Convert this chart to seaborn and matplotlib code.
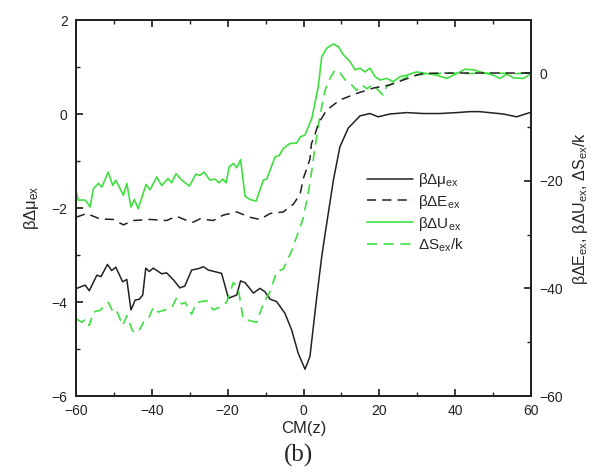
import numpy as np
import pandas as pd
import matplotlib
matplotlib.use("Agg")
import matplotlib.pyplot as plt
import seaborn as sns
from matplotlib.lines import Line2D

# ---- data ----
x_mu = [-59.8, -57.6, -56.5, -54.5, -53.4, -51.7, -50.6, -49.5, -47.7, -46.6, -45.5, -44.4,
        -43.3, -42.4, -41.6, -40.7, -39.6, -37.4, -36.1, -34.3, -32.6, -31.3, -29.5, -27.7,
        -26.4, -25.1, -21.6, -19.8, -17.6, -16.6, -15.4, -13.2, -11.5, -10.2, -8.8, -7.1,
        -4.9, -3.1, -1.4, 0.4, 1.7, 3.5, 4.8, 5.7, 7.9, 9.6, 11.8, 14.9, 17.5, 19.7, 22.8,
        27.2, 31.6, 36.0, 40.4, 43.9, 46.5, 52.7, 56.2, 59.7]
mu = [-3.71, -3.64, -3.76, -3.43, -3.46, -3.20, -3.33, -3.26, -3.57, -3.52, -4.17, -3.96,
      -3.94, -3.85, -3.28, -3.35, -3.28, -3.40, -3.38, -3.53, -3.70, -3.66, -3.32, -3.29,
      -3.25, -3.32, -3.39, -3.92, -3.85, -3.55, -3.59, -3.81, -3.71, -3.78, -3.94, -3.99,
      -4.24, -4.60, -5.09, -5.43, -5.16, -3.89, -3.04, -2.55, -1.40, -0.70, -0.30, -0.04,
      0.01, -0.06, 0.00, 0.03, 0.01, 0.01, 0.03, 0.05, 0.05, 0.00, -0.06, 0.03]

x_E = [-60.0, -57.2, -53.7, -50.2, -47.5, -44.9, -40.5, -36.1, -33.5, -30.8, -29.1, -27.3,
       -23.8, -21.2, -17.6, -14.1, -11.5, -8.8, -5.3, -3.6, -2.7, -0.9, 0.0, 1.7, 2.1, 3.0,
       3.9, 6.1, 9.6, 14.0, 18.4, 22.8, 26.3, 29.8, 31.6, 40.0, 50.0, 60.0]
E = [-26.8, -26.1, -27.1, -27.2, -28.2, -27.4, -27.2, -27.4, -26.6, -27.4, -27.7, -27.1,
     -27.4, -26.4, -25.8, -26.8, -27.2, -26.1, -25.8, -24.8, -24.4, -22.5, -19.5, -16.0,
     -13.1, -11.5, -9.4, -6.9, -5.0, -3.8, -2.8, -2.2, -1.3, -0.4, -0.06, 0.0, 0.0, 0.0]

x_U = [-60.0, -59.4, -57.6, -56.8, -56.3, -55.4, -54.1, -53.2, -51.5, -50.3, -49.5, -47.5,
       -46.6, -45.5, -44.6, -43.6, -41.5, -40.5, -38.7, -37.4, -35.7, -34.8, -33.6, -32.1,
       -30.1, -28.4, -27.3, -26.2, -24.7, -23.3, -22.3, -21.3, -20.4, -19.6, -18.5, -17.6,
       -16.6, -15.4, -14.1, -12.5, -10.6, -9.7, -7.5, -6.4, -5.3, -3.6, -1.8, -0.9, 0.4,
       2.2, 3.9, 4.8, 6.1, 7.9, 9.2, 10.5, 12.3, 13.6, 14.9, 16.2, 17.5, 18.9, 20.2, 21.9,
       23.7, 25.4, 27.2, 29.8, 32.5, 35.1, 37.8, 40.4, 42.6, 44.8, 47.4, 50.1, 51.8, 53.6,
       55.4, 58.0, 59.9]
U = [-21.8, -23.6, -23.6, -24.3, -24.9, -21.5, -20.5, -21.2, -18.4, -20.9, -19.9, -22.7,
     -20.5, -24.9, -23.5, -25.2, -20.7, -21.7, -19.3, -20.9, -19.6, -20.4, -18.7, -19.9,
     -21.0, -18.8, -19.0, -18.4, -19.9, -19.7, -20.4, -19.7, -20.4, -17.4, -16.8, -17.6,
     -16.1, -22.9, -23.5, -23.8, -19.9, -19.7, -15.6, -15.3, -14.0, -13.1, -13.0, -11.9,
     -11.5, -8.4, -2.5, 3.0, 4.6, 5.4, 4.9, 3.4, 2.1, 0.6, 0.9, 0.2, 0.9, -0.7, -1.3, -1.0,
     -1.6, -0.7, -0.4, 0.2, -0.1, -0.4, -1.0, -0.1, 0.7, 0.6, 0.06, -0.4, -1.0, -0.2,
     -0.9, -1.0, -0.2]

x_S = [-59.8, -58.5, -57.4, -56.5, -55.4, -53.7, -51.5, -50.2, -49.3, -47.7, -46.6, -45.1,
       -43.6, -41.8, -40.7, -39.6, -38.3, -37.0, -34.8, -33.4, -32.1, -31.2, -29.5, -28.2,
       -25.5, -23.8, -22.0, -20.3, -18.5, -17.2, -15.9, -14.1, -12.4, -10.6, -8.8, -7.1,
       -5.3, -3.1, 0.0, 1.7, 3.0, 4.3, 5.7, 7.0, 8.3, 9.6, 11.0, 12.7, 14.0, 15.3, 16.7,
       18.4, 19.3, 21.0, 21.9, 23.7, 25.9, 27.5, 32.0, 38.0, 44.0, 50.0, 56.0, 60.0]
S = [-45.7, -46.3, -45.7, -46.9, -44.4, -44.1, -42.6, -44.4, -44.1, -46.9, -45.1, -47.9,
     -48.2, -45.7, -45.3, -43.5, -44.4, -44.1, -43.6, -41.7, -42.9, -42.6, -44.8, -42.6,
     -42.3, -44.0, -43.5, -42.6, -38.9, -40.1, -45.7, -46.0, -46.3, -42.9, -40.6, -36.9,
     -36.4, -33.0, -26.8, -20.5, -14.0, -8.1, -3.2, -1.0, 0.56, 0.06, -1.3, -2.2, -3.2,
     -2.2, -2.9, -2.2, -2.9, -4.1, -2.5, -1.9, -1.3, -0.6, -0.2, 0.0, -0.1, 0.0, -0.1, 0.0]

labels = ['βΔμ$_{ex}$', 'βΔE$_{ex}$', 'βΔU$_{ex}$', 'ΔS$_{ex}$/k']

GREEN = '#3fe03f'

sns.set_theme(style='ticks')
plt.rcParams['font.family'] = ['Liberation Sans', 'DejaVu Sans']
plt.rcParams['mathtext.default'] = 'regular'

fig = plt.figure(figsize=(5.97, 4.72), dpi=100)
ax = fig.add_axes([76/597, 1-396/472, (531-76)/597, (396-20)/472])
ax2 = ax.twinx()

df_mu = pd.DataFrame({'x': x_mu, 'y': mu})
df_E = pd.DataFrame({'x': x_E, 'y': E})
df_U = pd.DataFrame({'x': x_U, 'y': U})
df_S = pd.DataFrame({'x': x_S, 'y': S})

sns.lineplot(data=df_S, x='x', y='y', ax=ax2, color=GREEN, lw=1.2,
             linestyle=(0, (6, 4)), estimator=None, sort=False)
sns.lineplot(data=df_U, x='x', y='y', ax=ax2, color=GREEN, lw=1.2,
             estimator=None, sort=False)
sns.lineplot(data=df_E, x='x', y='y', ax=ax2, color='#222222', lw=1.1,
             linestyle=(0, (6, 4)), estimator=None, sort=False)
sns.lineplot(data=df_mu, x='x', y='y', ax=ax, color='#222222', lw=1.1,
             estimator=None, sort=False)

ax.set_xlim(-60, 60)
ax.set_ylim(-6, 2)
ax2.set_ylim(-60, 9.85)

ax.set_xticks([-60, -40, -20, 0, 20, 40, 60])
ax.set_xticks(np.arange(-50, 60, 20), minor=True)
ax.set_yticks([-6, -4, -2, 0, 2])
ax.set_yticks([-5, -3, -1, 1], minor=True)
ax2.set_yticks([-60, -40, -20, 0])
ax2.set_yticks([-50, -30, -10], minor=True)

for a in (ax, ax2):
    for s in a.spines.values():
        s.set_linewidth(1.3)
        s.set_color('#222222')
ax.tick_params(axis='both', which='both', direction='in', labelsize=10,
               colors='#222222', top=True, right=False, pad=6)
ax.tick_params(which='major', length=5)
ax.tick_params(which='minor', length=3)
ax2.tick_params(axis='y', which='both', direction='in', labelsize=10,
                colors='#222222', pad=6)
ax2.tick_params(which='major', length=5)
ax2.tick_params(which='minor', length=3)

ax.set_xlabel('CM(z)', fontsize=12, labelpad=2)
ax.set_ylabel('βΔμ$_{ex}$', fontsize=12, labelpad=8)
ax2.set_ylabel('βΔE$_{ex}$, βΔU$_{ex}$, ΔS$_{ex}$/k', fontsize=11.5, labelpad=6)

handles = [Line2D([], [], color='#222222', lw=1.1),
           Line2D([], [], color='#222222', lw=1.1, linestyle=(0, (6, 4))),
           Line2D([], [], color=GREEN, lw=1.2),
           Line2D([], [], color=GREEN, lw=1.2, linestyle=(0, (6, 4)))]
ax.legend(handles, labels, loc='upper left', bbox_to_anchor=(0.61, 0.635),
          frameon=False, fontsize=11, handlelength=3.0, labelspacing=0.25,
          handletextpad=0.3)

fig.text(0.5, 0.035, '(b)', ha='center', va='center', fontsize=18,
         family='Liberation Serif')

fig.savefig('out.png', dpi=100)
